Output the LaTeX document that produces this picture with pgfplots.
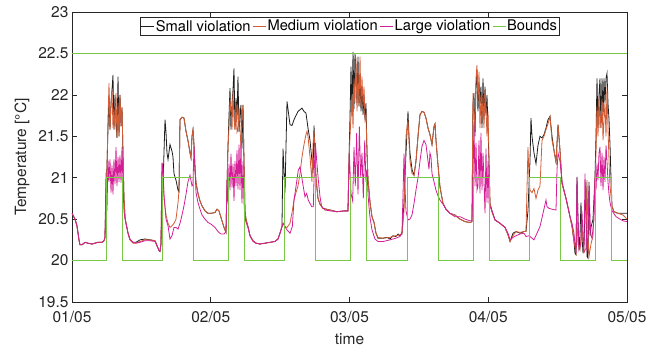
\documentclass[border=0pt]{standalone}
\usepackage{fontspec}
\setmainfont{TeX Gyre Heros}
\usepackage{pgfplots}
\pgfplotsset{compat=1.18}
\definecolor{sblack}{RGB}{30,30,30}
\definecolor{morange}{RGB}{212,92,52}
\definecolor{lmag}{RGB}{212,30,150}
\definecolor{bgreen}{RGB}{120,200,70}
\definecolor{axgray}{RGB}{38,38,38}
\begin{document}
\begin{tikzpicture}[font=\fontsize{15.5}{18}\selectfont]
\path[use as bounding box] (-72pt,-46pt) rectangle (587pt,302pt);
\begin{axis}[
  at={(0pt,0pt)}, anchor=south west,
  scale only axis, width=555pt, height=290pt,
  xmin=0, xmax=96, ymin=19.5, ymax=23,
  xtick={0,24,48,72,96},
  xticklabels={01/05,02/05,03/05,04/05,05/05},
  ytick={19.5,20,20.5,21,21.5,22,22.5,23},
  /pgf/number format/assume math mode=true,
  axis line style={axgray, line width=0.6pt},
  every tick/.style={axgray, line width=0.6pt},
  major tick length=5pt,
  tick align=inside,
  ticklabel style={text=axgray, font=\fontsize{15.5}{18}\selectfont},
  xticklabel style={anchor=base, yshift=-21pt},
  xlabel={time},
  xlabel style={at={(axis description cs:0.5,0)}, anchor=base, yshift=-43pt, text=axgray},
  ylabel={Temperature [°C]},
  ylabel style={at={(axis description cs:-0.0901,0.5)}, anchor=center, text=axgray},
  legend columns=4,
  legend style={at={(0.5,0.982)}, anchor=north, draw=axgray, line width=0.6pt,
    font=\fontsize{14.7}{17}\selectfont, inner xsep=1pt, inner ysep=0.5pt,
    nodes={inner xsep=1pt, inner ysep=2pt},
    /tikz/every even column/.append style={column sep=1pt}},
  legend image code/.code={\draw[#1, line width=0.9pt] (0pt,0pt) -- (13pt,0pt);},
  every axis plot/.append style={line width=0.8pt},
]
\addplot[sblack] coordinates {
(0,20.57)(0.52,20.5)(0.86,20.42)(1.21,20.25)(1.38,20.19)(1.73,20.19)(2.25,20.22)(2.77,20.21)(3.46,20.2)(3.98,20.21)(4.50,20.22)(5.19,20.22)(5.54,20.24)(5.71,20.28)
(5.88,20.82)(6.05,21.13)(6.23,21.6)(6.40,22.0)(6.57,21.58)(6.75,21.9)(6.92,22.06)(7.09,22.24)(7.26,21.58)(7.44,22.0)(7.61,21.7)(7.78,21.48)(7.96,22.22)(8.13,21.5)(8.30,22.0)(8.48,21.62)(8.65,21.85)(8.82,21.3)(8.99,20.75)(9.17,20.53)(9.34,20.45)(9.69,20.33)(10.03,20.25)(10.55,20.22)(11.07,20.22)(11.76,20.25)(12.63,20.26)(13.49,20.25)(14.36,20.24)(14.70,20.18)(15.05,20.12)(15.22,20.11)(15.39,20.2)(15.57,20.7)(15.74,20.9)(15.91,21.3)(16.09,21.7)(16.26,21.55)(16.43,21.3)(16.61,21.22)(16.95,21.4)(17.30,21.32)(17.47,21.25)(17.64,21.05)(17.99,20.97)(18.34,20.85)(18.51,20.83)(18.68,21.7)(19.03,21.73)(19.37,21.72)(19.72,21.56)(20.06,21.45)(20.41,21.3)(20.58,21.24)(20.76,21.5)(20.93,21.58)(21.10,21.4)(21.28,21.1)(21.45,20.94)(21.79,20.81)(22.14,20.72)(22.49,20.66)(23.00,20.6)(23.52,20.57)(24.04,20.57)(24.73,20.58)(25.08,20.62)(25.42,20.6)(25.77,20.52)(26.29,20.4)(26.64,20.34)
(26.81,20.9)(26.98,21.37)(27.16,21.75)(27.33,22.08)(27.50,21.58)(27.68,21.9)(27.85,22.06)(28.02,22.32)(28.19,21.58)(28.37,21.96)(28.54,21.7)(28.71,22.22)(28.89,21.55)(29.06,21.75)(29.23,21.88)(29.40,21.35)(29.58,21.88)(29.75,21.2)(29.92,20.6)(30.10,20.5)(30.44,20.41)(30.79,20.3)(31.31,20.24)(31.83,20.21)(32.52,20.2)(33.38,20.21)(34.25,20.22)(35.11,20.23)(35.63,20.26)(35.98,20.33)(36.32,20.41)
(36.50,21.35)(36.84,20.82)(37.19,21.92)(37.71,21.64)(38.05,21.63)(38.40,21.7)(38.74,21.75)(39.09,21.8)(39.44,21.82)(39.78,21.84)(40.13,21.8)(40.47,21.78)(40.82,21.6)(41.17,21.45)(41.51,21.2)(41.69,21.05)(41.86,21.63)(42.03,21.35)(42.20,21.0)(42.55,20.75)(42.90,20.68)(43.42,20.63)(44.63,20.61)(45.79,20.59)(47.22,20.6)(47.74,20.6)
(47.91,21.21)(48.09,21.74)(48.26,22.34)(48.43,21.74)(48.61,22.52)(48.78,21.83)(48.95,22.5)(49.12,22.3)(49.30,21.9)(49.47,22.46)(49.64,21.86)(49.82,22.22)(49.99,21.8)(50.16,22.1)(50.34,21.76)(50.51,22.0)(50.68,21.7)(50.85,21.9)(51.03,21.3)(51.20,20.97)(51.37,20.85)(51.55,20.7)(51.89,20.53)(52.24,20.46)(52.58,20.33)(52.93,20.27)(53.80,20.27)(54.50,20.28)(55.01,20.26)(55.50,20.3)(56.00,20.29)(56.40,20.32)(56.73,20.3)(57.08,20.32)(57.43,20.7)(57.77,21.3)(58.12,21.8)(58.29,21.5)(58.46,21.3)(58.81,21.1)(59.16,21.03)(59.50,21.2)(59.85,21.5)(60.19,21.76)(60.54,21.8)(60.89,21.79)(61.23,21.72)(61.58,21.6)(61.92,21.52)(62.27,21.4)(62.62,21.62)(62.79,21.65)(62.96,21.45)(63.31,21.15)(63.65,20.89)(64.17,20.69)(64.69,20.62)(65.38,20.57)(66.24,20.55)(67.11,20.5)(67.98,20.47)(68.84,20.46)(69.19,20.47)
(69.36,21.9)(69.53,22.02)(69.71,21.5)(69.88,22.1)(70.05,22.3)(70.22,21.8)(70.40,22.15)(70.57,21.9)(70.74,22.1)(70.92,21.6)(71.09,22.2)(71.26,21.7)(71.44,22.1)(71.61,21.75)(71.78,22.0)(71.96,21.6)(72.13,21.2)(72.30,20.69)(72.65,20.6)(73.17,20.49)(74.03,20.45)(74.90,20.4)(75.42,20.31)(75.77,20.23)(76.28,20.33)(76.80,20.35)(77.49,20.33)(78.18,20.35)(78.53,20.35)
(78.87,20.6)(79.22,21.2)(79.39,21.72)(79.57,21.5)(79.91,21.3)(80.26,21.17)(80.60,21.39)(80.95,21.5)(81.30,21.48)(81.64,21.52)(81.99,21.6)(82.33,21.7)(82.68,21.74)(83.03,21.5)(83.37,21.33)(83.72,21.19)(84.07,21.64)(84.41,21.33)(84.76,20.93)(85.45,20.75)(86.14,20.53)(86.49,20.41)(86.83,20.23)(87.00,20.09)(87.18,20.07)(87.35,21.01)(87.52,20.5)(87.70,20.13)(87.87,20.3)(88.04,20.7)(88.21,20.3)(88.39,20.09)(88.56,20.2)(88.91,20.95)(89.08,20.05)(89.26,20.03)(89.43,20.95)(89.60,20.3)(89.77,20.4)(90.12,20.5)(90.46,21.0)
(90.64,21.5)(90.81,22.2)(90.98,21.6)(91.16,22.0)(91.33,22.2)(91.50,21.6)(91.68,22.2)(91.85,21.75)(92.02,22.2)(92.19,21.9)(92.37,22.2)(92.54,22.26)(92.71,21.9)(92.89,21.7)(93.06,21.4)(93.23,21.0)(93.41,20.65)(93.75,20.59)(94.44,20.57)(95.31,20.57)(96.00,20.57)
};
\addlegendentry{Small violation}
\addplot[morange] coordinates {
(0,20.57)(0.52,20.5)(0.86,20.42)(1.21,20.25)(1.38,20.19)(1.73,20.19)(2.25,20.22)(2.77,20.21)(3.46,20.2)(3.98,20.21)(4.50,20.22)(5.19,20.22)(5.54,20.24)(5.71,20.28)
(5.88,20.82)(6.05,21.13)(6.23,21.7)(6.40,22.14)(6.57,21.58)(6.75,21.9)(6.92,22.06)(7.09,21.6)(7.26,21.85)(7.44,21.58)(7.61,22.02)(7.78,21.48)(7.96,21.9)(8.13,21.5)(8.30,22.0)(8.48,21.62)(8.65,21.85)(8.82,21.3)(8.99,20.75)(9.17,20.53)(9.34,20.45)(9.69,20.33)(10.03,20.25)(10.55,20.21)(11.07,20.21)(11.76,20.23)(12.63,20.25)(13.49,20.25)(14.36,20.24)(14.70,20.18)(15.05,20.12)(15.22,20.11)(15.39,20.2)(15.57,21.18)(15.74,21.1)(15.91,20.75)(16.26,20.55)(16.61,20.45)(16.95,20.4)(17.30,20.42)(17.64,20.45)(17.99,20.5)(18.34,20.7)(18.51,20.85)(18.68,21.7)(19.03,21.73)(19.37,21.72)(19.72,21.56)(20.06,21.45)(20.41,21.3)(20.58,21.24)(20.76,21.5)(20.93,21.58)(21.10,21.4)(21.28,21.1)(21.45,20.94)(21.79,20.81)(22.14,20.72)(22.49,20.66)(23.00,20.6)(23.52,20.57)(24.04,20.57)(24.73,20.58)(25.08,20.62)(25.42,20.6)(25.77,20.52)(26.29,20.4)(26.64,20.34)
(26.81,20.9)(26.98,21.37)(27.16,21.6)(27.33,21.94)(27.50,21.8)(27.68,21.58)(27.85,22.04)(28.02,21.7)(28.19,21.58)(28.37,21.9)(28.54,21.55)(28.71,21.58)(28.89,21.85)(29.06,21.6)(29.23,21.35)(29.40,21.75)(29.58,21.88)(29.75,21.2)(29.92,20.6)(30.10,20.5)(30.44,20.41)(30.79,20.3)(31.31,20.24)(31.83,20.21)(32.52,20.2)(33.38,20.21)(34.25,20.22)(35.11,20.23)(35.63,20.26)(35.98,20.33)(36.32,20.41)
(36.50,20.45)(36.84,20.41)(37.19,20.4)(37.71,20.45)(38.11,20.6)(38.40,20.73)(38.74,20.82)(39.09,20.9)(39.44,21.05)(39.78,21.25)(40.13,21.4)(40.47,21.52)(40.65,21.56)(40.82,21.5)(41.17,21.25)(41.51,20.95)(41.69,21.4)(41.86,21.56)(42.03,21.35)(42.20,21.0)(42.55,20.75)(42.90,20.68)(43.42,20.63)(44.63,20.61)(45.79,20.59)(47.22,20.6)(47.74,20.6)
(47.91,21.21)(48.09,21.5)(48.26,21.74)(48.43,22.0)(48.61,21.6)(48.78,22.2)(48.95,21.9)(49.12,22.45)(49.30,21.8)(49.47,22.3)(49.64,21.86)(49.82,22.46)(49.99,21.86)(50.16,22.22)(50.34,21.86)(50.51,22.1)(50.68,21.7)(50.85,21.75)(51.03,21.3)(51.20,20.97)(51.37,20.85)(51.55,20.7)(51.89,20.53)(52.24,20.46)(52.58,20.33)(52.93,20.28)(53.80,20.27)(55.01,20.28)(56.00,20.3)(56.73,20.31)(57.08,20.32)(57.43,20.6)(57.77,21.5)(58.12,21.7)(58.29,21.45)(58.46,21.2)(58.81,21.05)(59.16,21.03)(59.50,21.2)(59.85,21.5)(60.19,21.76)(60.54,21.8)(60.89,21.79)(61.23,21.72)(61.58,21.6)(61.92,21.52)(62.27,21.4)(62.62,21.62)(62.79,21.65)(62.96,21.45)(63.31,21.15)(63.65,20.89)(64.17,20.69)(64.69,20.62)(65.38,20.57)(66.24,20.55)(67.11,20.5)(67.98,20.47)(68.84,20.46)(69.19,20.47)
(69.36,22.02)(69.53,21.8)(69.71,21.58)(69.88,22.2)(70.05,22.36)(70.22,21.9)(70.40,22.28)(70.57,21.6)(70.74,22.0)(70.92,21.7)(71.09,22.0)(71.26,21.6)(71.44,22.06)(71.61,21.85)(71.78,21.5)(71.96,21.8)(72.13,21.2)(72.30,20.69)(72.65,20.58)(73.17,20.49)(74.03,20.45)(74.90,20.4)(75.42,20.31)(75.77,20.23)(76.28,20.3)(76.80,20.35)(77.49,20.34)(78.18,20.35)
(78.53,20.35)(78.87,21.37)(79.05,21.0)(79.22,20.85)(79.57,20.82)(79.91,20.87)(80.26,20.75)(80.60,20.85)(80.95,20.9)(81.30,21.45)(81.64,21.5)(81.99,21.58)(82.33,21.65)(82.68,21.74)(83.03,21.45)(83.37,21.33)(83.72,21.19)(84.07,21.64)(84.41,21.33)(84.76,20.93)(85.45,20.75)(86.14,20.53)(86.49,20.41)(86.83,20.23)(87.18,20.1)(87.35,20.5)(87.52,20.2)(87.87,20.13)(88.21,20.4)(88.56,20.1)(88.91,20.15)(89.08,20.97)(89.26,20.3)(89.43,20.05)(89.77,20.2)(90.12,20.3)(90.46,20.95)(90.64,21.3)(90.81,21.86)(90.98,21.5)(91.16,21.98)(91.33,21.6)(91.50,21.75)(91.68,21.95)(91.85,21.45)(92.02,21.7)(92.19,21.9)(92.37,21.5)(92.54,22.1)(92.71,21.6)(92.89,21.2)(93.06,20.9)(93.41,20.65)(93.75,20.59)(94.44,20.57)(95.31,20.55)(96.00,20.5)
};
\addlegendentry{Medium violation}
\addplot[lmag] coordinates {
(0,20.57)(0.52,20.5)(0.86,20.42)(1.21,20.25)(1.38,20.19)(1.73,20.19)(2.25,20.22)(2.77,20.21)(3.46,20.2)(3.98,20.21)(4.50,20.22)(5.19,20.22)(5.54,20.24)(5.71,20.28)
(5.88,21.06)(6.05,20.6)(6.23,21.21)(6.40,20.95)(6.57,21.22)(6.75,20.82)(6.92,21.15)(7.09,20.8)(7.26,21.22)(7.44,20.92)(7.61,21.37)(7.78,20.9)(7.96,21.25)(8.13,20.95)(8.30,21.27)(8.48,20.94)(8.65,21.37)(8.82,20.9)(8.99,20.6)(9.17,20.5)(9.34,20.45)(9.69,20.33)(10.03,20.26)(10.55,20.22)(11.07,20.21)(11.76,20.22)(12.63,20.24)(13.49,20.24)(14.36,20.23)(14.70,20.18)(15.05,20.12)(15.22,20.11)(15.39,20.2)(15.57,21.18)(15.74,21.1)(15.91,20.8)(16.26,20.5)(16.61,20.42)(16.95,20.26)(17.30,20.3)(17.64,20.4)(17.99,20.4)(18.34,20.38)(18.68,20.45)(19.03,20.55)(19.37,20.66)(19.72,20.8)(20.06,20.95)(20.41,21.03)(20.76,20.9)(20.93,20.92)(21.10,21.38)(21.28,21.1)(21.45,20.82)(21.79,20.7)(22.14,20.62)(22.49,20.55)(23.00,20.5)(23.52,20.46)(24.04,20.44)(24.73,20.4)(25.25,20.35)(25.77,20.32)(26.29,20.32)(26.64,20.35)
(26.81,20.97)(26.98,20.69)(27.16,21.17)(27.33,20.85)(27.50,21.29)(27.68,20.88)(27.85,21.17)(28.02,20.72)(28.19,21.2)(28.37,20.9)(28.54,21.33)(28.71,20.86)(28.89,21.4)(29.06,20.85)(29.23,21.43)(29.40,20.69)(29.58,21.2)(29.75,20.7)(29.92,20.52)(30.10,20.46)(30.44,20.4)(30.79,20.3)(31.31,20.23)(31.83,20.21)(32.52,20.2)(33.38,20.21)(34.25,20.22)(35.11,20.23)(35.63,20.26)(35.98,20.33)(36.32,20.41)
(36.50,20.45)(36.84,20.41)(37.19,20.37)(37.71,20.33)(38.11,20.41)(38.40,20.73)(38.74,20.89)(39.14,21.09)(39.44,21.13)(39.73,21.01)(40.01,20.89)(40.30,20.77)(40.59,20.81)(40.87,20.73)(41.17,20.69)(41.46,20.65)(41.74,20.65)(41.91,21.1)(42.09,21.42)(42.32,21.21)(42.61,20.97)(42.90,20.77)(43.19,20.65)(43.76,20.61)(44.63,20.6)(45.79,20.59)(47.22,20.6)(47.74,20.6)
(47.97,21.29)(48.26,20.81)(48.55,20.72)(48.78,21.37)(49.00,20.9)(49.24,21.54)(49.47,20.8)(49.70,21.62)(49.94,21.0)(50.16,21.3)(50.39,20.75)(50.63,21.45)(50.85,20.95)(51.03,21.1)(51.20,20.8)(51.37,20.65)(51.55,20.52)(51.89,20.37)(52.41,20.26)(52.93,20.23)(53.80,20.23)(55.01,20.25)(56.00,20.27)(56.73,20.29)(57.08,20.35)(57.26,20.8)(57.43,21.29)(57.60,20.9)(57.77,20.6)(58.12,20.49)(58.46,20.5)(58.81,20.55)(59.16,20.69)(59.50,20.85)(59.85,21.0)(60.19,21.2)(60.54,21.38)(60.89,21.45)(61.23,21.4)(61.58,21.2)(61.75,21.1)(61.92,21.3)(62.10,21.25)(62.27,21.05)(62.62,20.95)(62.96,20.85)(63.31,20.78)(63.65,20.73)(64.17,20.68)(64.69,20.62)(65.38,20.57)(66.24,20.53)(67.11,20.53)(67.98,20.5)(68.84,20.48)(69.19,20.48)
(69.36,20.97)(69.53,21.68)(69.71,20.9)(69.88,21.42)(70.05,20.85)(70.22,20.9)(70.40,21.45)(70.57,20.81)(70.74,21.54)(70.92,20.85)(71.09,21.3)(71.26,20.97)(71.44,20.57)(71.61,21.35)(71.78,20.7)(71.96,21.2)(72.13,20.7)(72.30,20.65)(72.65,20.6)(73.17,20.49)(74.03,20.45)(74.90,20.4)(75.42,20.33)(75.77,20.25)(76.28,20.28)(76.80,20.3)(77.49,20.32)(78.18,20.33)
(78.53,20.29)(79.05,20.3)(79.57,20.27)(79.91,20.25)(80.43,20.33)(80.95,20.41)(81.47,20.57)(81.99,20.73)(82.16,20.65)(82.51,20.63)(83.03,20.62)(83.72,20.61)(83.89,21.09)(84.07,21.3)(84.41,21.2)(84.76,20.95)(85.45,20.75)(86.14,20.53)(86.49,20.45)(86.83,20.33)(87.00,20.2)(87.18,20.09)(87.35,21.0)(87.52,20.5)(87.70,20.13)(88.04,20.2)(88.21,20.6)(88.39,20.3)(88.56,20.09)(88.73,21.05)(88.91,20.5)(89.08,20.1)(89.26,20.3)(89.43,20.9)(89.60,20.5)(89.77,20.3)(89.95,20.27)(90.29,20.5)(90.46,21.0)(90.64,20.85)(90.81,21.17)(90.98,20.97)(91.16,21.3)(91.33,21.37)(91.50,20.9)(91.68,21.3)(91.85,20.85)(92.02,21.25)(92.19,20.95)(92.37,21.39)(92.54,21.2)(92.71,20.95)(92.89,20.8)(93.06,20.7)(93.41,20.6)(94.10,20.53)(94.79,20.5)(95.31,20.48)(96.00,20.47)
};
\addlegendentry{Large violation}
\addplot[bgreen] coordinates {(0,22.5)(96,22.5)};
\addlegendentry{Bounds}
\addplot[bgreen, forget plot] coordinates {
(0,20)(5.88,20)(5.88,21)(8.70,21)(8.70,20)(15.62,20)(15.62,21)(20.98,21)(20.98,20)(27.04,20)(27.04,21)(29.80,21)(29.80,20)(36.72,20)(36.72,21)(42.15,21)(42.15,20)(48.21,20)(48.21,21)(50.98,21)(50.98,20)(58.0,20)(58.0,21)(63.36,21)(63.36,20)(69.41,20)(69.41,21)(72.18,21)(72.18,20)(79.10,20)(79.10,21)(84.41,21)(84.41,20)(90.59,20)(90.59,21)(93.36,21)(93.36,20)(96,20)
};
\end{axis}
\end{tikzpicture}
\end{document}
